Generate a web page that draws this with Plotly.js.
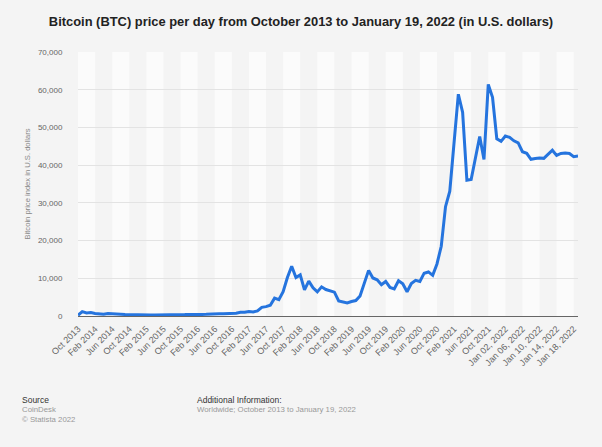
<!DOCTYPE html>
<html>
<head>
<meta charset="utf-8">
<script src="https://cdn.plot.ly/plotly-3.0.1.min.js"></script>
<style>
  html, body { margin: 0; padding: 0; background: #f4f4f4; }
  #chart { width: 602px; height: 447px; }
</style>
</head>
<body>
<div id="chart"></div>
<script>
const categories = [
  "Oct 2013","Nov 2013","Dec 2013",
  "Jan 2014","Feb 2014","Mar 2014","Apr 2014","May 2014","Jun 2014","Jul 2014","Aug 2014","Sep 2014","Oct 2014","Nov 2014","Dec 2014",
  "Jan 2015","Feb 2015","Mar 2015","Apr 2015","May 2015","Jun 2015","Jul 2015","Aug 2015","Sep 2015","Oct 2015","Nov 2015","Dec 2015",
  "Jan 2016","Feb 2016","Mar 2016","Apr 2016","May 2016","Jun 2016","Jul 2016","Aug 2016","Sep 2016","Oct 2016","Nov 2016","Dec 2016",
  "Jan 2017","Feb 2017","Mar 2017","Apr 2017","May 2017","Jun 2017","Jul 2017","Aug 2017","Sep 2017","Oct 2017","Nov 2017","Dec 2017",
  "Jan 2018","Feb 2018","Mar 2018","Apr 2018","May 2018","Jun 2018","Jul 2018","Aug 2018","Sep 2018","Oct 2018","Nov 2018","Dec 2018",
  "Jan 2019","Feb 2019","Mar 2019","Apr 2019","May 2019","Jun 2019","Jul 2019","Aug 2019","Sep 2019","Oct 2019","Nov 2019","Dec 2019",
  "Jan 2020","Feb 2020","Mar 2020","Apr 2020","May 2020","Jun 2020","Jul 2020","Aug 2020","Sep 2020","Oct 2020","Nov 2020","Dec 2020",
  "Jan 2021","Feb 2021","Mar 2021","Apr 2021","May 2021","Jun 2021","Jul 2021","Aug 2021","Sep 2021","Oct 2021","Nov 2021","Dec 2021",
  "Jan 01, 2022","Jan 02, 2022","Jan 03, 2022","Jan 04, 2022","Jan 05, 2022","Jan 06, 2022","Jan 07, 2022","Jan 08, 2022","Jan 09, 2022","Jan 10, 2022",
  "Jan 11, 2022","Jan 12, 2022","Jan 13, 2022","Jan 14, 2022","Jan 15, 2022","Jan 16, 2022","Jan 17, 2022","Jan 18, 2022","Jan 19, 2022"
];

const priceUSD = [
  200, 1150, 800,
  900, 650, 460, 450, 630, 640, 585, 480, 390, 340, 380, 320,
  220, 255, 245, 235, 230, 265, 285, 230, 237, 315, 378, 430,
  370, 437, 416, 448, 531, 673, 624, 575, 609, 700, 742, 964,
  970, 1190, 1080, 1350, 2300, 2480, 2875, 4735, 4340, 6470, 10200, 13200,
  10220, 10900, 6940, 9240, 7500, 6400, 7730, 7020, 6620, 6320, 4020, 3740,
  3460, 3830, 4100, 5320, 8560, 12100, 10080, 9600, 8290, 9150, 7560, 7190,
  9350, 8540, 6420, 8630, 9450, 9140, 11350, 11680, 10780, 13800, 18500, 28990,
  33100, 45200, 58800, 54000, 36000, 36200, 41700, 47600, 41500, 61400, 58000, 47000,
  46300, 47700, 47350, 46450, 45900, 43550, 43150, 41550, 41750, 41900,
  41800, 42750, 43950, 42600, 43100, 43200, 43100, 42250, 42400
];

const tickLabels = [
  "Oct 2013","Feb 2014","Jun 2014","Oct 2014","Feb 2015","Jun 2015","Oct 2015","Feb 2016","Jun 2016","Oct 2016",
  "Feb 2017","Jun 2017","Oct 2017","Feb 2018","Jun 2018","Oct 2018","Feb 2019","Jun 2019","Oct 2019","Feb 2020",
  "Jun 2020","Oct 2020","Feb 2021","Jun 2021","Oct 2021","Jan 02, 2022","Jan 06, 2022","Jan 10, 2022","Jan 14, 2022","Jan 18, 2022"
];

const yTicks = [0, 10000, 20000, 30000, 40000, 50000, 60000, 70000];

const FONT = "Arial, 'Liberation Sans', Helvetica, sans-serif";

// alternating vertical bands between tick positions
const shapes = [];
for (let k = 0; k < tickLabels.length; k++) {
  if (k % 2 === 1) {
    const i0 = categories.indexOf(tickLabels[k]);
    const i1 = Math.min(i0 + 4, categories.length - 1);
    shapes.push({
      type: 'rect', xref: 'x', yref: 'paper', layer: 'below',
      x0: i0, x1: i1, y0: 0, y1: 1,
      fillcolor: '#f4f4f4', line: { width: 0 }
    });
  }
}

const trace = {
  type: 'scatter', mode: 'lines',
  x: categories, y: priceUSD,
  line: { color: '#2574de', width: 3, shape: 'linear' },
  hoverinfo: 'x+y'
};

const footY = v => (316 - v) / 264.5;
const footX = v => (v - 78) / 500;

const layout = {
  width: 602, height: 447,
  paper_bgcolor: '#f4f4f4',
  plot_bgcolor: '#fbfbfb',
  margin: { l: 78, r: 24, t: 52, b: 131 },
  showlegend: false,
  font: { family: FONT, color: '#666' },
  title: {
    text: 'Bitcoin (BTC) price per day from October 2013 to January 19, 2022 (in U.S. dollars)',
    font: { family: FONT, size: 12.9, color: '#222', weight: 'bold' },
    x: 0.5, xanchor: 'center', y: 0.953, yanchor: 'middle'
  },
  xaxis: {
    type: 'category',
    range: [0, categories.length - 1],
    tickmode: 'array', tickvals: tickLabels, ticktext: tickLabels,
    tickangle: -45,
    tickfont: { family: FONT, size: 9, color: '#666' },
    ticks: 'outside', ticklen: 3, tickcolor: 'rgba(0,0,0,0)',
    showgrid: false, zeroline: false,
    showline: true, linecolor: '#666', linewidth: 1.2,
    fixedrange: true
  },
  yaxis: {
    range: [0, 70000],
    tickmode: 'array', tickvals: yTicks,
    tickformat: ',',
    tickfont: { family: FONT, size: 8, color: '#666' },
    ticks: 'outside', ticklen: 13, tickcolor: 'rgba(0,0,0,0)',
    showgrid: true, gridcolor: '#e3e3e3', gridwidth: 1,
    zeroline: false, showline: false,
    title: { text: 'Bitcoin price index in U.S. dollars', font: { family: FONT, size: 7.6, color: '#888' }, standoff: 6 },
    fixedrange: true
  },
  shapes: shapes,
  annotations: [
    { xref: 'paper', yref: 'paper', x: footX(20), y: footY(400.5), xanchor: 'left', yanchor: 'middle',
      text: 'Source', showarrow: false, font: { family: FONT, size: 8.5, color: '#333' } },
    { xref: 'paper', yref: 'paper', x: footX(20), y: footY(410), xanchor: 'left', yanchor: 'middle',
      text: 'CoinDesk', showarrow: false, font: { family: FONT, size: 7.8, color: '#999' } },
    { xref: 'paper', yref: 'paper', x: footX(20), y: footY(419.5), xanchor: 'left', yanchor: 'middle',
      text: '© Statista 2022', showarrow: false, font: { family: FONT, size: 7.8, color: '#999' } },
    { xref: 'paper', yref: 'paper', x: footX(195), y: footY(400.5), xanchor: 'left', yanchor: 'middle',
      text: 'Additional Information:', showarrow: false, font: { family: FONT, size: 8.5, color: '#333' } },
    { xref: 'paper', yref: 'paper', x: footX(195), y: footY(410), xanchor: 'left', yanchor: 'middle',
      text: 'Worldwide; October 2013 to January 19, 2022', showarrow: false, font: { family: FONT, size: 7.8, color: '#999' } }
  ]
};

Plotly.newPlot('chart', [trace], layout, { displayModeBar: false, staticPlot: true });
</script>
</body>
</html>
